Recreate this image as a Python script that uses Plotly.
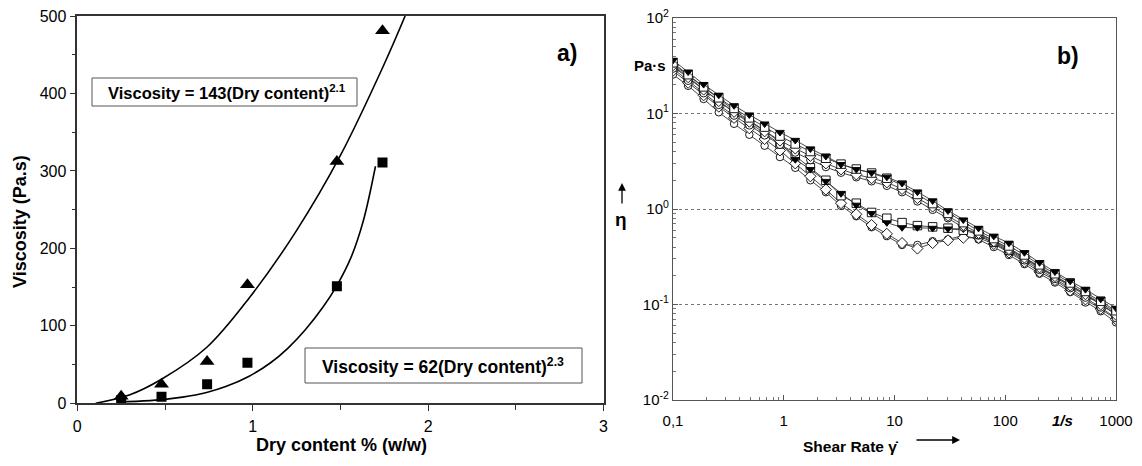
import plotly.graph_objects as go

W, H = 1142, 466
FONT = "Liberation Sans, Arial, sans-serif"

# ---------------- Panel a data ----------------
dry_tri = [0.25, 0.48, 0.74, 0.97, 1.48, 1.74]
visc_tri = [9, 24.5, 54, 153, 312, 481]
dry_sq = [0.25, 0.48, 0.74, 0.97, 1.48, 1.74]
visc_sq = [4, 8.6, 24.5, 52.4, 151, 311]

fit_hi_x = [0.105, 0.3, 0.48, 0.737, 0.98, 1.247, 1.5, 1.75, 1.869]
fit_hi_y = [0, 11, 31, 72, 136, 222, 320, 438, 500]
fit_lo_x = [0.227, 0.414, 0.6, 0.737, 0.85, 0.98, 1.1, 1.2, 1.3, 1.4, 1.48, 1.56, 1.63, 1.70]
fit_lo_y = [2, 3.5, 8, 14, 22, 35, 52, 71, 95, 124, 152, 188, 235, 306]

# ---------------- Panel b data ----------------
shear = [0.1, 0.137, 0.189, 0.259, 0.356, 0.489, 0.672, 0.924, 1.27, 1.74,
         2.40, 3.29, 4.52, 6.21, 8.53, 11.7, 16.1, 22.1, 30.4, 41.8,
         57.4, 78.8, 108, 149, 204, 281, 386, 530, 728, 1000]

eta_U1 = [36.2, 27.3, 20.2, 15.6, 12.1, 9.7, 7.8, 6.36, 5.25, 4.27,
          3.57, 2.93, 2.6, 2.4, 2.16, 1.86, 1.51, 1.22, 0.96, 0.77,
          0.63, 0.52, 0.44, 0.35, 0.275, 0.22, 0.176, 0.144, 0.114, 0.0917]
eta_U2 = [34, 25.5, 19, 14.6, 11.3, 9.0, 7.2, 5.8, 4.8, 4.0,
          3.4, 2.95, 2.62, 2.38, 2.1, 1.78, 1.42, 1.14, 0.9, 0.72,
          0.59, 0.49, 0.41, 0.33, 0.26, 0.21, 0.168, 0.137, 0.108, 0.086]
eta_U3 = [32, 24, 17.8, 13.5, 10.4, 8.2, 6.5, 5.2, 4.3, 3.6,
          3.0, 2.6, 2.3, 2.1, 1.9, 1.62, 1.3, 1.06, 0.85, 0.68,
          0.56, 0.46, 0.38, 0.31, 0.245, 0.198, 0.158, 0.128, 0.1, 0.078]
eta_U4 = [29.5, 22, 16.3, 12.3, 9.5, 7.5, 5.9, 4.7, 3.9, 3.25,
          2.75, 2.4, 2.15, 1.95, 1.75, 1.5, 1.2, 0.98, 0.8, 0.64,
          0.53, 0.44, 0.36, 0.29, 0.23, 0.185, 0.148, 0.118, 0.093, 0.072]
eta_L1 = [33, 25, 18.5, 14, 10.8, 8.5, 6.6, 5.0, 3.3, 2.6,
          1.95, 1.45, 1.1, 0.9, 0.72, 0.64, 0.64, 0.63, 0.62, 0.62,
          0.56, 0.47, 0.39, 0.31, 0.25, 0.2, 0.16, 0.13, 0.103, 0.083]
eta_L2 = [31, 23.5, 17.5, 13.2, 10.2, 8.0, 6.2, 4.8, 3.6, 2.7,
          2.0, 1.38, 1.15, 0.92, 0.80, 0.72, 0.67, 0.65, 0.63, 0.60,
          0.54, 0.45, 0.37, 0.30, 0.24, 0.195, 0.155, 0.125, 0.1, 0.08]
eta_L3 = [28, 21, 15.5, 11.8, 9.0, 7.0, 5.4, 4.1, 3.0, 2.2,
          1.6, 1.15, 0.88, 0.68, 0.55, 0.44, 0.385, 0.44, 0.47, 0.5,
          0.5, 0.43, 0.35, 0.28, 0.22, 0.18, 0.14, 0.113, 0.09, 0.07]
eta_L4 = [25.6, 19.5, 14.2, 10.3, 7.8, 6.0, 4.6, 3.5, 2.7, 2.0,
          1.5, 1.08, 0.84, 0.645, 0.52, 0.42, 0.42, 0.46, 0.48, 0.53,
          0.48, 0.40, 0.33, 0.265, 0.21, 0.17, 0.135, 0.105, 0.085, 0.065]

y_ticks_b = [0.01, 0.1, 1, 10, 100]
y_ticktext_b = ["10<sup>-2</sup>", "10<sup>-1</sup>", "10<sup>0</sup>", "10<sup>1</sup>", "10<sup>2</sup>"]
x_ticks_b = [0.1, 1, 10, 100, 1000]
x_ticktext_b = ["0,1", "1", "10", "100", "1000"]


def px(x):
    return x / W


def py(y):
    return 1 - y / H


fig = go.Figure()

# Panel a
fig.add_trace(go.Scatter(x=fit_hi_x, y=fit_hi_y, mode="lines", line=dict(color="black", width=1.6, shape="spline"),
                         xaxis="x", yaxis="y", showlegend=False, hoverinfo="skip"))
fig.add_trace(go.Scatter(x=fit_lo_x, y=fit_lo_y, mode="lines", line=dict(color="black", width=1.6, shape="spline"),
                         xaxis="x", yaxis="y", showlegend=False, hoverinfo="skip"))
fig.add_trace(go.Scatter(x=dry_tri, y=visc_tri, mode="markers",
                         marker=dict(symbol="triangle-up", size=13, color="black"),
                         xaxis="x", yaxis="y", showlegend=False))
fig.add_trace(go.Scatter(x=dry_sq, y=visc_sq, mode="markers",
                         marker=dict(symbol="square", size=10, color="black"),
                         xaxis="x", yaxis="y", showlegend=False))

# Panel b
series_b = [
    (eta_L4, "circle", "white", 7.5),
    (eta_L3, "diamond", "white", 8.5),
    (eta_L2, "square", "white", 8.5),
    (eta_L1, "triangle-down", "black", 7.5),
    (eta_U4, "circle", "white", 7.5),
    (eta_U3, "diamond", "white", 8.5),
    (eta_U2, "square", "white", 8.5),
    (eta_U1, "triangle-down", "black", 7.5),
]
for vals, sym, col, sz in series_b:
    fig.add_trace(go.Scatter(x=shear, y=vals, mode="lines+markers",
                             line=dict(color="#333333", width=0.9),
                             marker=dict(symbol=sym, size=sz, color=col, line=dict(color="black", width=0.9)),
                             xaxis="x2", yaxis="y2", showlegend=False))

minor_y = [m * 10 ** e for e in range(-2, 2) for m in range(2, 10)]
minor_x = [m * 10 ** e for e in range(-1, 3) for m in range(2, 10)]

fig.update_layout(
    width=W, height=H, margin=dict(l=0, r=0, t=0, b=0, autoexpand=False),
    paper_bgcolor="white", plot_bgcolor="white",
    font=dict(family=FONT, color="black", size=15),
    xaxis=dict(domain=[px(77.3), px(603.5)], range=[0, 3], anchor="y", automargin=False,
               tickvals=[0, 1, 2, 3], ticks="outside", ticklen=6, tickwidth=1.2, tickcolor="#333",
               showline=True, linecolor="#333", linewidth=1.5, mirror=True, showgrid=False, zeroline=False,
               minor=dict(tickvals=[0.5, 1.5, 2.5], ticks="outside", ticklen=5, tickcolor="#333"),
               tickfont=dict(size=16), ticklabelstandoff=2),
    yaxis=dict(domain=[py(403.3), py(16)], range=[0, 500], anchor="x", automargin=False,
               tickvals=[0, 100, 200, 300, 400, 500], ticks="outside", ticklen=6, tickwidth=1.2, tickcolor="#333",
               showline=True, linecolor="#333", linewidth=1.5, mirror=True, showgrid=False, zeroline=False,
               minor=dict(tickvals=[50, 150, 250, 350, 450], ticks="outside", ticklen=4, tickcolor="#333"),
               tickfont=dict(size=16)),
    xaxis2=dict(domain=[px(673), px(1116)], type="log", range=[-1, 3], anchor="y2", automargin=False,
                tickvals=x_ticks_b, ticktext=x_ticktext_b, ticks="inside", ticklen=5, tickcolor="#555",
                showline=True, linecolor="#555", linewidth=1.2, mirror=True, showgrid=False, zeroline=False,
                minor=dict(tickvals=minor_x, ticks="inside", ticklen=3, tickcolor="#777"),
                tickfont=dict(size=15), ticklabelstandoff=7),
    yaxis2=dict(domain=[py(400), py(18)], type="log", range=[-2, 2], anchor="x2", automargin=False,
                tickvals=y_ticks_b, ticktext=y_ticktext_b, ticks="inside", ticklen=5, tickcolor="#555",
                showline=True, linecolor="#555", linewidth=1.2, mirror=True,
                showgrid=True, gridcolor="#777", griddash="dot", gridwidth=1, zeroline=False,
                minor=dict(tickvals=minor_y, ticks="inside", ticklen=3, tickcolor="#777"),
                tickfont=dict(size=15)),
)

# Boxes for equations
fig.add_shape(type="rect", xref="paper", yref="paper", x0=px(92), x1=px(357), y0=py(106), y1=py(78),
              line=dict(color="#555", width=1), fillcolor="white", layer="below")
fig.add_shape(type="rect", xref="paper", yref="paper", x0=px(305), x1=px(582), y0=py(383), y1=py(348),
              line=dict(color="#555", width=1), fillcolor="white", layer="below")

ann = []
ann.append(dict(x=px(227), y=py(92), text="<b>Viscosity = 143(Dry content)<sup>2.1</sup></b>", font=dict(size=16.5)))
ann.append(dict(x=px(443), y=py(366), text="<b>Viscosity = 62(Dry content)<sup>2.3</sup></b>", font=dict(size=17.5)))
ann.append(dict(x=px(567), y=py(53), text="<b>a)</b>", font=dict(size=23)))
ann.append(dict(x=px(1068), y=py(56), text="<b>b)</b>", font=dict(size=23)))
ann.append(dict(x=px(20), y=py(222), text="<b>Viscosity (Pa.s)</b>", textangle=-90, font=dict(size=18)))
ann.append(dict(x=px(341), y=py(445), text="<b>Dry content % (w/w)</b>", font=dict(size=18)))
ann.append(dict(x=px(851), y=py(446), text="<b>Shear Rate γ̇</b>", font=dict(size=15.5)))
ann.append(dict(x=px(1062), y=py(420), text="<b><i>1/s</i></b>", font=dict(size=15)))
ann.append(dict(x=px(650), y=py(65), text="<b>Pa·s</b>", font=dict(size=15)))
ann.append(dict(x=px(621), y=py(219), text="<b>η</b>", font=dict(size=19)))
for a in ann:
    a.update(xref="paper", yref="paper", showarrow=False, xanchor="center", yanchor="middle")
    a["font"].setdefault("family", FONT)
    a["font"].setdefault("color", "black")
# arrows
ann.append(dict(xref="paper", yref="paper", x=px(960), y=py(440), ax=-45, ay=0, text="", showarrow=True,
                arrowhead=2, arrowsize=1.2, arrowwidth=1.3, arrowcolor="black"))
ann.append(dict(xref="paper", yref="paper", x=px(622), y=py(183), ax=0, ay=22, text="", showarrow=True,
                arrowhead=2, arrowsize=1.2, arrowwidth=1.3, arrowcolor="black"))
fig.update_layout(annotations=ann)

fig.write_html("out.html", config={"displayModeBar": False},
               post_script="document.body.style.margin='0px';document.body.style.overflow='hidden';")
